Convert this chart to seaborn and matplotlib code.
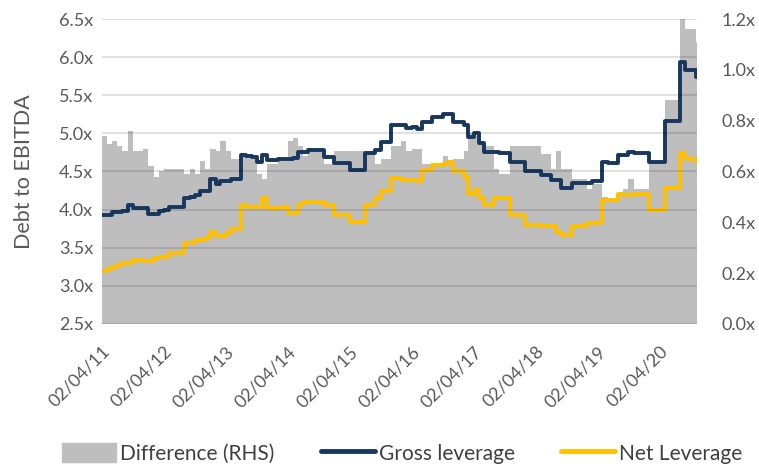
import numpy as np
import pandas as pd
import seaborn as sns
import matplotlib.pyplot as plt
import matplotlib.dates as mdates
from matplotlib.patches import Patch
from matplotlib.lines import Line2D

# monthly readings, Apr 2011 -> Nov 2020
gross = [3.93, 3.93, 3.97, 3.97, 3.98, 4.06, 4.02, 4.02, 4.02, 3.94, 3.94, 3.98,
         3.99, 4.04, 4.04, 4.04, 4.15, 4.17, 4.19, 4.24, 4.24, 4.40, 4.33, 4.37,
         4.37, 4.40, 4.40, 4.72, 4.70, 4.69, 4.63, 4.72, 4.65, 4.65, 4.66, 4.67,
         4.67, 4.68, 4.76, 4.76, 4.78, 4.78, 4.78, 4.69, 4.69, 4.61, 4.61, 4.61,
         4.52, 4.52, 4.52, 4.74, 4.74, 4.78, 4.89, 4.89, 5.11, 5.11, 5.11, 5.07,
         5.08, 5.06, 5.15, 5.15, 5.22, 5.22, 5.26, 5.26, 5.15, 5.15, 5.11, 4.95,
         5.00, 4.87, 4.76, 4.76, 4.76, 4.74, 4.74, 4.63, 4.63, 4.63, 4.50, 4.50,
         4.50, 4.45, 4.45, 4.39, 4.39, 4.28, 4.28, 4.35, 4.35, 4.35, 4.35, 4.37,
         4.37, 4.63, 4.61, 4.61, 4.72, 4.72, 4.76, 4.74, 4.74, 4.74, 4.63, 4.63,
         4.63, 5.16, 5.16, 5.16, 5.94, 5.83, 5.83, 5.74]
net = [3.19, 3.22, 3.25, 3.27, 3.30, 3.30, 3.34, 3.34, 3.33, 3.32, 3.36, 3.38,
       3.38, 3.43, 3.43, 3.43, 3.56, 3.56, 3.60, 3.60, 3.63, 3.71, 3.65, 3.65,
       3.69, 3.75, 3.75, 4.06, 4.04, 4.04, 4.04, 4.15, 4.02, 4.02, 4.02, 4.03,
       3.95, 3.95, 4.06, 4.10, 4.10, 4.10, 4.10, 4.06, 4.06, 3.93, 3.93, 3.93,
       3.84, 3.84, 3.84, 4.06, 4.06, 4.15, 4.24, 4.24, 4.41, 4.41, 4.39, 4.39,
       4.39, 4.37, 4.52, 4.52, 4.59, 4.59, 4.60, 4.63, 4.50, 4.50, 4.43, 4.20,
       4.26, 4.15, 4.06, 4.06, 4.15, 4.15, 4.15, 3.93, 3.93, 3.93, 3.80, 3.80,
       3.80, 3.78, 3.78, 3.78, 3.71, 3.67, 3.67, 3.78, 3.78, 3.78, 3.82, 3.82,
       3.82, 4.13, 4.13, 4.13, 4.21, 4.19, 4.19, 4.21, 4.21, 4.21, 3.99, 3.99,
       3.99, 4.28, 4.28, 4.28, 4.74, 4.67, 4.67, 4.63]
dates = pd.date_range('2011-04-01', periods=len(gross), freq='MS') + pd.Timedelta(days=1)
tick_dates = pd.date_range('2011-04-01', periods=10, freq='12MS') + pd.Timedelta(days=1)

df = pd.DataFrame({'Date': dates, 'Gross': gross, 'Net': net})
df['Difference'] = df['Gross'] - df['Net']
# repeat last row so the final step spans to the axis edge
last = df.iloc[[-1]].copy()
last['Date'] = last['Date'] + pd.Timedelta(days=6)
df = pd.concat([df, last], ignore_index=True)

NAVY = '#17375E'
YELLOW = '#FFC000'
GREY = '#B3B3B3'
TXT = '#595959'

sns.set_style('white')
plt.rcParams['font.family'] = ['Lato', 'DejaVu Sans']

fig = plt.figure(figsize=(7.59, 4.66), dpi=100)
ax = fig.add_axes([0.134, 0.305, 0.784, 0.654])
ax2 = ax.twinx()

ax2.fill_between(df['Date'], 0, df['Difference'], step='post', color=GREY, alpha=0.85, lw=0)
ax2.set_ylim(0, 1.2)
ax2.set_yticks(np.arange(0, 1.21, 0.2))
ax2.set_yticklabels([f'{v:.1f}x' for v in np.arange(0, 1.21, 0.2)])

ax.set_zorder(ax2.get_zorder() + 1)
ax.patch.set_visible(False)
sns.lineplot(data=df, x='Date', y='Gross', ax=ax, color=NAVY, lw=2.8, drawstyle='steps-post')
sns.lineplot(data=df, x='Date', y='Net', ax=ax, color=YELLOW, lw=2.8, drawstyle='steps-post')
ax.set_ylim(2.5, 6.5)
yt = np.arange(2.5, 6.51, 0.5)
ax.set_yticks(yt)
ax.set_yticklabels([f'{v:.1f}x' for v in yt])
ax.set_xlim(df['Date'].iloc[0], df['Date'].iloc[-1])
ax.set_xticks(tick_dates)
ax.xaxis.set_major_formatter(mdates.DateFormatter('%d/%m/%y'))
ax.grid(axis='y', color='black', alpha=0.14, lw=1.2)
ax.set_axisbelow(False)

for a in (ax, ax2):
    for s in a.spines.values():
        s.set_visible(False)
    a.tick_params(length=0, colors=TXT, labelsize=13)
ax.tick_params(axis='y', pad=6)
ax2.tick_params(axis='y', pad=18)
ax.tick_params(axis='x', pad=14)
plt.setp(ax.get_xticklabels(), rotation=45, ha='right', rotation_mode='anchor')
ax.set_xlabel('')
ax.set_ylabel('Debt to EBITDA', fontsize=15.5, color=TXT, labelpad=18)

handles = [Patch(color='#BEBEBE', label='Difference (RHS)'),
           Line2D([], [], color=NAVY, lw=3.5, label='Gross leverage'),
           Line2D([], [], color=YELLOW, lw=3.5, label='Net Leverage')]
leg = fig.legend(handles=handles, loc='lower center', bbox_to_anchor=(0.53, -0.035), ncol=3,
                 frameon=False, fontsize=15, handlelength=2.6, handleheight=1.0,
                 handletextpad=0.2, columnspacing=2.2)
for t in leg.get_texts():
    t.set_color('#404040')

fig.savefig('out.png', dpi=100)
